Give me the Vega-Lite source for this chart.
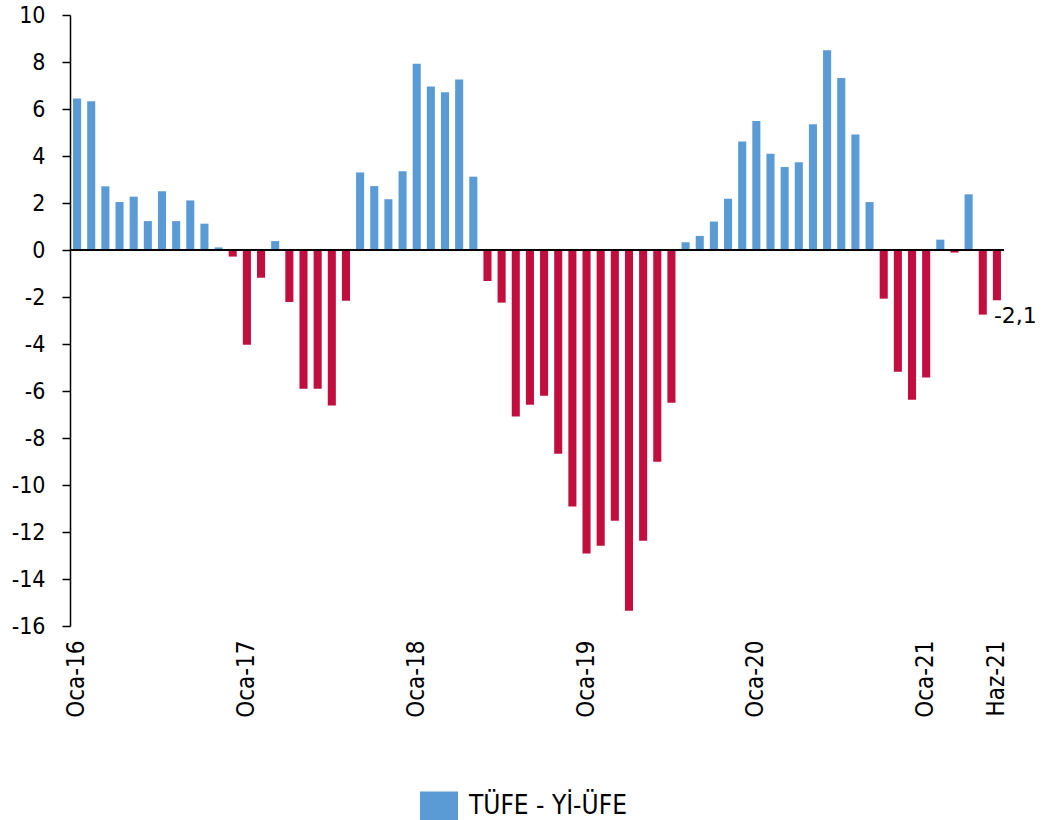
{
  "$schema": "https://vega.github.io/schema/vega-lite/v6.json",
  "width": 934,
  "height": 611,
  "autosize": {"type": "none"},
  "padding": {"left": 70, "top": 15, "right": 39, "bottom": 194},
  "background": "white",
  "config": {
    "view": {"stroke": null},
    "locale": {"number": {"decimal": ",", "thousands": ".", "grouping": [3], "currency": ["", " TL"], "minus": "-"}},
    "font": "DejaVu Sans Condensed, DejaVu Sans"
  },
  "data": {
    "values": [
      {"ay": "Oca-16", "deger": 6.45, "seri": "TÜFE - Yİ-ÜFE"},
      {"ay": "Şub-16", "deger": 6.33, "seri": "TÜFE - Yİ-ÜFE"},
      {"ay": "Mar-16", "deger": 2.71, "seri": "TÜFE - Yİ-ÜFE"},
      {"ay": "Nis-16", "deger": 2.04, "seri": "TÜFE - Yİ-ÜFE"},
      {"ay": "May-16", "deger": 2.27, "seri": "TÜFE - Yİ-ÜFE"},
      {"ay": "Haz-16", "deger": 1.23, "seri": "TÜFE - Yİ-ÜFE"},
      {"ay": "Tem-16", "deger": 2.50, "seri": "TÜFE - Yİ-ÜFE"},
      {"ay": "Ağu-16", "deger": 1.23, "seri": "TÜFE - Yİ-ÜFE"},
      {"ay": "Eyl-16", "deger": 2.11, "seri": "TÜFE - Yİ-ÜFE"},
      {"ay": "Eki-16", "deger": 1.12, "seri": "TÜFE - Yİ-ÜFE"},
      {"ay": "Kas-16", "deger": 0.11, "seri": "TÜFE - Yİ-ÜFE"},
      {"ay": "Ara-16", "deger": -0.28, "seri": "TÜFE - Yİ-ÜFE"},
      {"ay": "Oca-17", "deger": -4.03, "seri": "TÜFE - Yİ-ÜFE"},
      {"ay": "Şub-17", "deger": -1.18, "seri": "TÜFE - Yİ-ÜFE"},
      {"ay": "Mar-17", "deger": 0.38, "seri": "TÜFE - Yİ-ÜFE"},
      {"ay": "Nis-17", "deger": -2.21, "seri": "TÜFE - Yİ-ÜFE"},
      {"ay": "May-17", "deger": -5.90, "seri": "TÜFE - Yİ-ÜFE"},
      {"ay": "Haz-17", "deger": -5.90, "seri": "TÜFE - Yİ-ÜFE"},
      {"ay": "Tem-17", "deger": -6.62, "seri": "TÜFE - Yİ-ÜFE"},
      {"ay": "Ağu-17", "deger": -2.16, "seri": "TÜFE - Yİ-ÜFE"},
      {"ay": "Eyl-17", "deger": 3.30, "seri": "TÜFE - Yİ-ÜFE"},
      {"ay": "Eki-17", "deger": 2.72, "seri": "TÜFE - Yİ-ÜFE"},
      {"ay": "Kas-17", "deger": 2.16, "seri": "TÜFE - Yİ-ÜFE"},
      {"ay": "Ara-17", "deger": 3.35, "seri": "TÜFE - Yİ-ÜFE"},
      {"ay": "Oca-18", "deger": 7.93, "seri": "TÜFE - Yİ-ÜFE"},
      {"ay": "Şub-18", "deger": 6.96, "seri": "TÜFE - Yİ-ÜFE"},
      {"ay": "Mar-18", "deger": 6.71, "seri": "TÜFE - Yİ-ÜFE"},
      {"ay": "Nis-18", "deger": 7.26, "seri": "TÜFE - Yİ-ÜFE"},
      {"ay": "May-18", "deger": 3.12, "seri": "TÜFE - Yİ-ÜFE"},
      {"ay": "Haz-18", "deger": -1.32, "seri": "TÜFE - Yİ-ÜFE"},
      {"ay": "Tem-18", "deger": -2.24, "seri": "TÜFE - Yİ-ÜFE"},
      {"ay": "Ağu-18", "deger": -7.09, "seri": "TÜFE - Yİ-ÜFE"},
      {"ay": "Eyl-18", "deger": -6.58, "seri": "TÜFE - Yİ-ÜFE"},
      {"ay": "Eki-18", "deger": -6.20, "seri": "TÜFE - Yİ-ÜFE"},
      {"ay": "Kas-18", "deger": -8.67, "seri": "TÜFE - Yİ-ÜFE"},
      {"ay": "Ara-18", "deger": -10.92, "seri": "TÜFE - Yİ-ÜFE"},
      {"ay": "Oca-19", "deger": -12.92, "seri": "TÜFE - Yİ-ÜFE"},
      {"ay": "Şub-19", "deger": -12.58, "seri": "TÜFE - Yİ-ÜFE"},
      {"ay": "Mar-19", "deger": -11.52, "seri": "TÜFE - Yİ-ÜFE"},
      {"ay": "Nis-19", "deger": -15.35, "seri": "TÜFE - Yİ-ÜFE"},
      {"ay": "May-19", "deger": -12.37, "seri": "TÜFE - Yİ-ÜFE"},
      {"ay": "Haz-19", "deger": -9.01, "seri": "TÜFE - Yİ-ÜFE"},
      {"ay": "Tem-19", "deger": -6.50, "seri": "TÜFE - Yİ-ÜFE"},
      {"ay": "Ağu-19", "deger": 0.33, "seri": "TÜFE - Yİ-ÜFE"},
      {"ay": "Eyl-19", "deger": 0.60, "seri": "TÜFE - Yİ-ÜFE"},
      {"ay": "Eki-19", "deger": 1.21, "seri": "TÜFE - Yİ-ÜFE"},
      {"ay": "Kas-19", "deger": 2.18, "seri": "TÜFE - Yİ-ÜFE"},
      {"ay": "Ara-19", "deger": 4.62, "seri": "TÜFE - Yİ-ÜFE"},
      {"ay": "Oca-20", "deger": 5.49, "seri": "TÜFE - Yİ-ÜFE"},
      {"ay": "Şub-20", "deger": 4.10, "seri": "TÜFE - Yİ-ÜFE"},
      {"ay": "Mar-20", "deger": 3.53, "seri": "TÜFE - Yİ-ÜFE"},
      {"ay": "Nis-20", "deger": 3.73, "seri": "TÜFE - Yİ-ÜFE"},
      {"ay": "May-20", "deger": 5.35, "seri": "TÜFE - Yİ-ÜFE"},
      {"ay": "Haz-20", "deger": 8.50, "seri": "TÜFE - Yİ-ÜFE"},
      {"ay": "Tem-20", "deger": 7.32, "seri": "TÜFE - Yİ-ÜFE"},
      {"ay": "Ağu-20", "deger": 4.91, "seri": "TÜFE - Yİ-ÜFE"},
      {"ay": "Eyl-20", "deger": 2.04, "seri": "TÜFE - Yİ-ÜFE"},
      {"ay": "Eki-20", "deger": -2.07, "seri": "TÜFE - Yİ-ÜFE"},
      {"ay": "Kas-20", "deger": -5.18, "seri": "TÜFE - Yİ-ÜFE"},
      {"ay": "Ara-20", "deger": -6.37, "seri": "TÜFE - Yİ-ÜFE"},
      {"ay": "Oca-21", "deger": -5.43, "seri": "TÜFE - Yİ-ÜFE"},
      {"ay": "Şub-21", "deger": 0.44, "seri": "TÜFE - Yİ-ÜFE"},
      {"ay": "Mar-21", "deger": -0.11, "seri": "TÜFE - Yİ-ÜFE"},
      {"ay": "Nis-21", "deger": 2.37, "seri": "TÜFE - Yİ-ÜFE"},
      {"ay": "May-21", "deger": -2.75, "seri": "TÜFE - Yİ-ÜFE"},
      {"ay": "Haz-21", "deger": -2.14, "seri": "TÜFE - Yİ-ÜFE"}
    ]
  },
  "encoding": {
    "x": {
      "field": "ay",
      "type": "ordinal",
      "sort": null,
      "scale": {"paddingInner": 0.43, "paddingOuter": 0.215},
      "axis": {
        "title": null,
        "values": ["Oca-16", "Oca-17", "Oca-18", "Oca-19", "Oca-20", "Oca-21", "Haz-21"],
        "labelAngle": -90,
        "domain": false,
        "ticks": false,
        "labelPadding": 14,
        "labelFontSize": 24,
        "labelColor": "black",
        "labelFont": "DejaVu Sans Condensed, DejaVu Sans"
      }
    },
    "y": {
      "field": "deger",
      "type": "quantitative",
      "scale": {"domain": [-16, 10], "nice": false, "zero": false},
      "axis": {
        "title": null,
        "values": [-16, -14, -12, -10, -8, -6, -4, -2, 0, 2, 4, 6, 8, 10],
        "grid": false,
        "domainColor": "black",
        "domainWidth": 1.5,
        "tickColor": "black",
        "tickWidth": 1.5,
        "tickSize": 8,
        "labelPadding": 17,
        "labelFontSize": 23,
        "labelColor": "black",
        "labelFont": "DejaVu Sans Condensed, DejaVu Sans"
      }
    }
  },
  "layer": [
    {
      "mark": {"type": "bar"},
      "encoding": {
        "color": {
          "field": "seri",
          "type": "nominal",
          "scale": {"range": ["#5B9BD5"]},
          "condition": {"test": "datum.deger < 0", "value": "#C20E3F"},
          "legend": {
            "title": null,
            "orient": "none",
            "legendX": 350,
            "legendY": 772,
            "symbolType": "M-1,-0.76H1V0.76H-1Z",
            "symbolSize": 1444,
            "symbolStrokeWidth": 0,
            "labelFontSize": 26,
            "labelOffset": 11,
            "labelColor": "black",
            "labelFont": "DejaVu Sans Condensed, DejaVu Sans"
          }
        }
      }
    },
    {
      "mark": {"type": "rule", "color": "black", "strokeWidth": 2},
      "encoding": {"y": {"datum": 0}, "x": null}
    },
    {
      "transform": [{"filter": "datum.ay === 'Haz-21'"}],
      "mark": {"type": "text", "align": "left", "baseline": "top", "dx": -3, "dy": 6, "fontSize": 22, "color": "black", "font": "DejaVu Sans"},
      "encoding": {"text": {"field": "deger", "type": "quantitative", "format": ".1f"}}
    }
  ]
}
